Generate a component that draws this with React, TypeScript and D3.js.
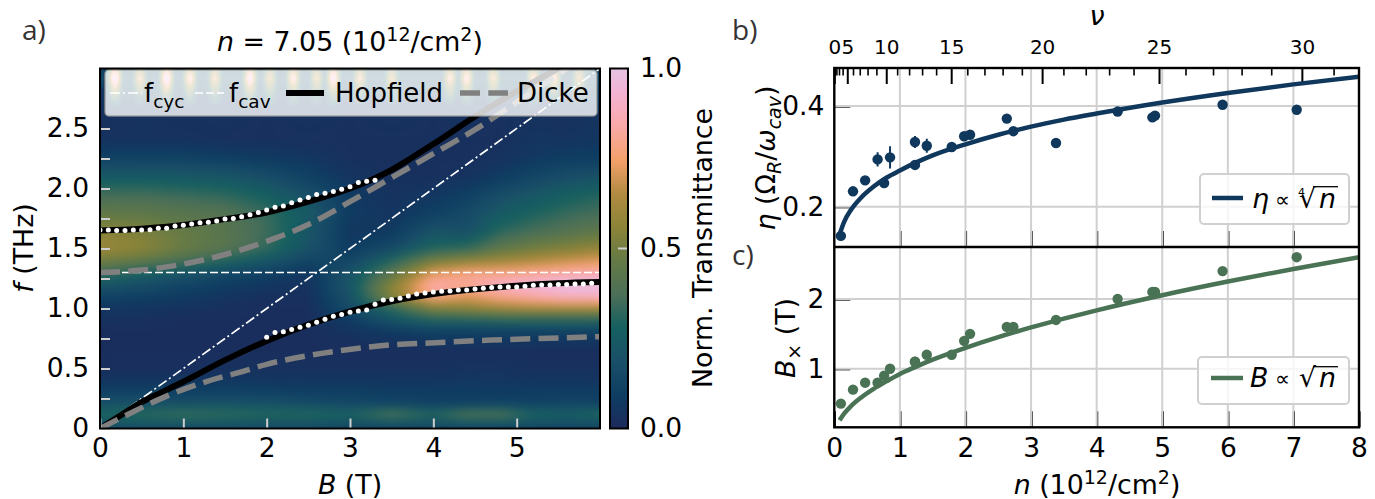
import React, { useEffect, useMemo, useRef } from 'react';
import * as d3 from 'd3';

const width = 1375;
const height = 499;
const font = '"DejaVu Sans", sans-serif';

// heatmap: one row per f, one column per B
const heatB = [0, 0.5, 1, 1.5, 2, 2.5, 3, 3.5, 4, 4.4, 4.8, 5.2, 5.6, 6];
const heatF = [3.0, 2.6, 2.4, 2.25, 2.1, 1.95, 1.8, 1.65, 1.5, 1.4, 1.3, 1.2, 1.1, 1.0, 0.9, 0.8, 0.65, 0.45, 0.3, 0.2, 0.12, 0.06, 0];
const heatT = [
  [.10, .10, .10, .10, .10, .10, .10, .10, .10, .10, .10, .10, .10, .10],
  [.03, .04, .03, .04, .03, .04, .03, .04, .03, .04, .03, .04, .03, .05],
  [.04, .04, .04, .03, .03, .03, .03, .03, .03, .03, .03, .05, .05, .06],
  [.12, .12, .12, .10, .08, .06, .03, .03, .03, .03, .04, .07, .09, .10],
  [.24, .24, .23, .22, .17, .11, .05, .03, .03, .04, .08, .13, .17, .20],
  [.36, .36, .34, .32, .27, .18, .08, .04, .06, .10, .17, .22, .27, .30],
  [.45, .44, .42, .40, .33, .24, .08, .05, .10, .15, .24, .29, .33, .36],
  [.55, .52, .47, .42, .35, .22, .06, .07, .20, .18, .31, .36, .40, .44],
  [.60, .56, .48, .42, .33, .20, .08, .16, .30, .33, .44, .50, .54, .58],
  [.50, .45, .38, .30, .22, .13, .13, .30, .50, .56, .60, .64, .68, .72],
  [.36, .28, .22, .16, .11, .06, .20, .42, .72, .78, .78, .80, .83, .85],
  [.22, .18, .13, .09, .06, .04, .22, .55, .85, .82, .90, .95, 1.0, 1.0],
  [.12, .10, .08, .05, .03, .03, .20, .55, .80, .72, .80, .85, .90, .90],
  [.06, .05, .04, .03, .02, .02, .16, .32, .52, .56, .60, .62, .62, .62],
  [.03, .03, .02, .02, .02, .02, .08, .20, .28, .28, .30, .30, .30, .30],
  [.02, .02, .02, .02, .02, .02, .04, .07, .10, .10, .10, .10, .10, .10],
  [.02, .02, .02, .02, .02, .02, .02, .02, .02, .02, .02, .02, .02, .02],
  [.03, .03, .03, .04, .04, .04, .04, .04, .04, .05, .05, .04, .04, .04],
  [.11, .12, .11, .12, .11, .10, .10, .09, .09, .09, .08, .09, .09, .09],
  [.20, .20, .19, .20, .20, .17, .15, .13, .11, .11, .12, .12, .13, .13],
  [.30, .33, .36, .34, .32, .32, .30, .42, .32, .44, .44, .30, .28, .32],
  [.24, .26, .26, .26, .24, .24, .22, .24, .22, .24, .24, .22, .20, .22],
  [.14, .12, .12, .12, .12, .12, .10, .10, .10, .10, .10, .10, .10, .10],
];

// pale stripes along the top edge, mostly behind the legend
const stripeB = [0.18, 0.48, 0.8, 1.08, 1.38, 1.8, 2.04, 2.32, 2.6, 2.8, 3.12, 3.5, 4.2, 4.4, 4.72, 5.2, 5.45, 5.75];
const stripeT = [1.0, 0.75, 1.0, 0.85, 0.75, 0.95, 0.7, 0.85, 0.7, 0.95, 0.75, 0.7, 0.8, 0.85, 0.75, 0.8, 0.8, 0.7];

const cmapValues = [0, 0.09, 0.19, 0.28, 0.37, 0.47, 0.56, 0.65, 0.745, 0.84, 0.93, 1];
const cmapColors = ['#1d2a5c', '#0e3d62', '#1a5068', '#156060', '#4b6f58', '#657a45', '#8c8438', '#b08a40', '#f3a06a', '#f9a9a8', '#f4b2d2', '#e6c3e3'];

const hopfieldUpB = [0, 0.5, 1, 1.5, 2, 2.5, 3, 3.3, 3.5, 3.75, 4, 4.5, 5, 5.5, 5.75];
const hopfieldUpF = [1.65, 1.665, 1.695, 1.745, 1.80, 1.89, 2.0, 2.085, 2.155, 2.26, 2.37, 2.6, 2.81, 3.0, 3.1];
const hopfieldLowB = [0, 0.25, 0.5, 0.75, 1, 1.5, 2, 2.5, 3, 3.5, 4, 4.5, 5, 5.5, 6];
const hopfieldLowF = [0, 0.11, 0.22, 0.305, 0.39, 0.57, 0.73, 0.865, 0.975, 1.06, 1.12, 1.16, 1.19, 1.21, 1.22];
const dickeUpB = [0, 0.5, 1, 1.5, 2, 2.5, 3, 3.5, 4, 4.5, 5, 5.5, 6];
const dickeUpF = [1.3, 1.32, 1.37, 1.45, 1.56, 1.7, 1.89, 2.09, 2.29, 2.49, 2.72, 2.95, 3.2];
const dickeLowB = [0, 0.4, 0.8, 1.32, 1.66, 2, 2.34, 2.66, 2.94, 3.34, 4.02, 4.7, 5.38, 6];
const dickeLowF = [0, 0.14, 0.27, 0.4, 0.465, 0.535, 0.587, 0.626, 0.654, 0.688, 0.715, 0.737, 0.752, 0.765];
const cycB = [0, 6];
const cycF = [0, 3];
const cavF = 1.3;

// extracted peaks, B = 0 .. 3.3 and B = 2 .. 5.9 in 0.1 T steps
const peaksUp = [1.654, 1.654, 1.649, 1.651, 1.654, 1.654, 1.657, 1.668, 1.668, 1.688, 1.693, 1.704, 1.715, 1.718, 1.729, 1.746, 1.749, 1.765, 1.782, 1.799, 1.821, 1.843, 1.854, 1.882, 1.904, 1.926, 1.951, 1.96, 1.976, 1.993, 2.015, 2.049, 2.06, 2.068];
const peaksLow = [0.76, 0.80, 0.807, 0.826, 0.843, 0.86, 0.885, 0.91, 0.935, 0.95, 0.968, 0.98, 0.987, 1.035, 1.07, 1.076, 1.085, 1.104, 1.12, 1.13, 1.137, 1.143, 1.146, 1.154, 1.154, 1.162, 1.168, 1.174, 1.18, 1.18, 1.18, 1.185, 1.193, 1.196, 1.196, 1.2, 1.2, 1.204, 1.204, 1.21];

// density points shared by panels b and c
const density = [0.10, 0.285, 0.47, 0.66, 0.76, 0.85, 1.23, 1.23, 1.41, 1.79, 1.98, 2.07, 2.63, 2.73, 3.38, 4.32, 4.85, 4.89, 5.92, 7.05];
const eta = [0.142, 0.2306, 0.2524, 0.294, 0.247, 0.298, 0.3285, 0.283, 0.321, 0.3186, 0.34, 0.343, 0.375, 0.35, 0.3265, 0.389, 0.3775, 0.381, 0.4026, 0.3926];
const etaErr = [0.004, 0.004, 0.004, 0.014, 0.006, 0.022, 0.012, 0.008, 0.014, 0.004, 0.006, 0.006, 0.004, 0.004, 0.004, 0.004, 0.004, 0.004, 0.004, 0.004];
const bCross = [0.5, 0.7, 0.8, 0.8, 0.9, 1.0, 1.1, 1.1, 1.2, 1.2, 1.4, 1.5, 1.6, 1.6, 1.7, 2.0, 2.1, 2.1, 2.4, 2.6];

const fitN = [0.08, 0.15, 0.25, 0.4, 0.6, 0.8, 1, 1.25, 1.5, 2, 2.5, 3, 3.5, 4, 5, 6, 7, 8];
const fitEta = [0.145, 0.17, 0.193, 0.217, 0.24, 0.258, 0.272, 0.288, 0.302, 0.324, 0.343, 0.359, 0.373, 0.385, 0.407, 0.426, 0.443, 0.458];
const fitB = [0.26, 0.356, 0.46, 0.581, 0.712, 0.822, 0.925, 1.03, 1.13, 1.3, 1.453, 1.592, 1.719, 1.838, 2.055, 2.251, 2.431, 2.6];

const nuTicks = [0, 5, 10, 15, 20, 25, 30];
const nuMinor = [1, 2, 3, 4, 6, 7, 8, 9, 11, 12, 13, 14, 16, 17, 18, 19, 21, 22, 23, 24, 26, 27, 28, 29, 31];

const bScale = d3.scaleLinear().domain([0, 6]).range([100, 600]);
const fScale = d3.scaleLinear().domain([0, 3]).range([428.5, 68.5]);
const cbScale = d3.scaleLinear().domain([0, 1]).range([428.5, 68.5]);
const nScale = d3.scaleLinear().domain([0, 8]).range([834.3, 1359]);
const nuScale = d3.scalePow().exponent(2).domain([0, 31.78]).range([834.3, 1359]);
const etaScale = d3.scaleLinear().domain([0.12, 0.4755]).range([247, 68]);
const bxScale = d3.scaleLinear().domain([0.16, 2.746]).range([427.3, 247]);
const cmap = d3.scaleLinear<string>().domain(cmapValues).range(cmapColors).interpolate(d3.interpolateRgb);

function sampleHeat(b: number, f: number) {
  const asc = heatF.map(d => -d);
  const j = Math.min(heatF.length - 2, Math.max(0, d3.bisectRight(asc, -f) - 1));
  const i = Math.min(heatB.length - 2, Math.max(0, d3.bisectRight(heatB, b) - 1));
  const tx = (b - heatB[i]) / (heatB[i + 1] - heatB[i]);
  const ty = (heatF[j] - f) / (heatF[j] - heatF[j + 1]);
  const top = heatT[j][i] * (1 - tx) + heatT[j][i + 1] * tx;
  const bottom = heatT[j + 1][i] * (1 - tx) + heatT[j + 1][i + 1] * tx;
  return top * (1 - ty) + bottom * ty;
}

function stripeAt(b: number, f: number) {
  if (f <= 2.65) return 0;
  // stripes fade out going down from f = 2.92
  const fade = f > 2.92 ? 1 - (f - 2.92) * 4 : (f - 2.65) / 0.27;
  let stripe = 0.15;
  stripeB.forEach((s, k) => {
    const q = Math.abs(b - s) / 0.085;
    stripe = Math.max(stripe, stripeT[k] * Math.exp(-q * q));
  });
  return stripe * fade;
}

function renderHeat() {
  const w = 500;
  const h = 360;
  const base = document.createElement('canvas');
  base.width = w;
  base.height = h;
  const ctx = base.getContext('2d')!;
  for (let py = 0; py < h; py++) {
    for (let px = 0; px < w; px++) {
      ctx.fillStyle = cmap(sampleHeat(bScale.invert(100 + px + 0.5), fScale.invert(68.5 + py + 0.5)));
      ctx.fillRect(px, py, 1, 1);
    }
  }
  const out = document.createElement('canvas');
  out.width = w;
  out.height = h;
  const octx = out.getContext('2d')!;
  octx.drawImage(base, 0, 0);
  octx.filter = 'blur(5px)';
  octx.drawImage(base, 0, 0);
  octx.filter = 'none';
  // the stripes stay sharp, so they go on after the blur
  for (let py = 0; py < 60; py++) {
    for (let px = 0; px < w; px++) {
      const v = stripeAt(bScale.invert(100 + px + 0.5), fScale.invert(68.5 + py + 0.5));
      if (v > 0.1) {
        octx.fillStyle = cmap(v);
        octx.fillRect(px, py, 1, 1);
      }
    }
  }
  return out.toDataURL();
}

function drawAxes(g: SVGGElement) {
  const root = d3.select(g);
  root.selectAll('*').remove();

  const style = (sel: any, tickColor: string, size: number, tickWidth: number) => {
    sel.select('.domain').remove();
    sel.selectAll('line').attr('stroke', tickColor).attr('stroke-width', tickWidth);
    sel.selectAll('text').attr('fill', '#000').style('font-size', `${size}px`).style('font-family', font);
  };

  root.append('g').attr('transform', 'translate(0,428.5)')
    .call(d3.axisBottom(bScale).tickValues([0, 1, 2, 3, 4, 5]).tickFormat(d3.format('d') as any).tickSizeInner(-10).tickSizeOuter(0).tickPadding(10))
    .call(style, '#cfcfcf', 26.5, 2);

  root.append('g').attr('transform', 'translate(100,0)')
    .call(d3.axisLeft(fScale).tickValues(d3.range(0, 11).map(d => d * 0.25))
      .tickFormat((d: any) => (d === 0 ? '0' : d * 2 % 1 === 0 ? d3.format('.1f')(d) : '')).tickSizeInner(-10).tickSizeOuter(0).tickPadding(11))
    .call(style, '#cfcfcf', 26.5, 2);

  root.append('g').attr('transform', 'translate(610,0)')
    .call(d3.axisRight(cbScale).tickValues([0, 0.5, 1]).tickFormat(d3.format('.1f') as any).tickSize(0).tickPadding(30))
    .call(style, 'none', 26.5, 0);

  // panel b
  root.append('g').attr('transform', 'translate(834.3,0)')
    .call(d3.axisLeft(etaScale).tickValues([0.2, 0.4]).tickFormat(d3.format('.1f') as any).tickSizeInner(-16).tickSizeOuter(0).tickPadding(10))
    .call(style, '#000', 26.5, 2.2);
  root.append('g').attr('transform', 'translate(0,247)')
    .call(d3.axisBottom(nScale).tickValues(d3.range(1, 8)).tickFormat(() => '').tickSizeInner(-16).tickSizeOuter(0))
    .call(style, '#000', 26.5, 2.2);
  root.append('g').attr('transform', 'translate(0,68)')
    .call(d3.axisTop(nuScale).tickValues(nuTicks).tickFormat(d3.format('d') as any).tickSizeInner(-16).tickSizeOuter(0).tickPadding(14))
    .call(style, '#000', 20, 2);
  root.append('g').attr('transform', 'translate(0,68)')
    .call(d3.axisTop(nuScale).tickValues(nuMinor).tickFormat(() => '').tickSizeInner(-7.5).tickSizeOuter(0))
    .call(style, '#000', 20, 1.6);

  // panel c
  root.append('g').attr('transform', 'translate(834.3,0)')
    .call(d3.axisLeft(bxScale).tickValues([1, 2]).tickFormat(d3.format('d') as any).tickSizeInner(-16).tickSizeOuter(0).tickPadding(10))
    .call(style, '#000', 26.5, 2.2);
  root.append('g').attr('transform', 'translate(0,427.3)')
    .call(d3.axisBottom(nScale).tickValues(d3.range(0, 9)).tickFormat(d3.format('d') as any).tickSizeInner(-16).tickSizeOuter(0).tickPadding(10.5))
    .call(style, '#000', 26.5, 2.2);
}

const curve = (xs: number[], ys: number[], sx: any, sy: any) =>
  d3.line<number>().x(d => sx(xs[d])).y(d => sy(ys[d])).curve(d3.curveMonotoneX)(d3.range(xs.length)) as string;

const App = () => {
  const axesRef = useRef<SVGGElement>(null);
  const heat = useMemo(renderHeat, []);

  useEffect(() => {
    if (axesRef.current) drawAxes(axesRef.current);
  }, []);

  return (
    <svg width={width} height={height} viewBox={`0 0 ${width} ${height}`} fontFamily={font}
      style={{ position: 'absolute', left: 0, top: 0, display: 'block', background: '#fff' }}>
      <defs>
        <clipPath id="heatClip"><rect x={100} y={68.5} width={500} height={360} /></clipPath>
        <clipPath id="bClip"><rect x={834.3} y={68} width={524.7} height={179} /></clipPath>
        <clipPath id="cClip"><rect x={834.3} y={247} width={524.7} height={180.3} /></clipPath>
        <linearGradient id="cbGrad" x1="0" y1="1" x2="0" y2="0">
          {cmapValues.map((v, i) => <stop key={v} offset={v} stopColor={cmapColors[i]} />)}
        </linearGradient>
      </defs>

      {/* panel a */}
      <image href={heat} x={100} y={68.5} width={500} height={360} preserveAspectRatio="none" />
      <g clipPath="url(#heatClip)" fill="none">
        <path d={curve(cycB, cycF, bScale, fScale)} stroke="#fff" strokeWidth={1.7} strokeDasharray="10 3 2 3" />
        <line x1={bScale(0)} x2={bScale(6)} y1={fScale(cavF)} y2={fScale(cavF)} stroke="#fff" strokeWidth={1.7} strokeDasharray="8 3" />
        <path d={curve(hopfieldUpB, hopfieldUpF, bScale, fScale)} stroke="#000" strokeWidth={6} />
        <path d={curve(hopfieldLowB, hopfieldLowF, bScale, fScale)} stroke="#000" strokeWidth={6} />
        <path d={curve(dickeUpB, dickeUpF, bScale, fScale)} stroke="#808080" strokeWidth={5.5} strokeDasharray="20 8.3" />
        <path d={curve(dickeLowB, dickeLowF, bScale, fScale)} stroke="#808080" strokeWidth={5.5} strokeDasharray="20 8.3" />
      </g>
      {peaksUp.map((f, i) => <circle key={`u${i}`} cx={bScale(i / 10)} cy={fScale(f)} r={2.5} fill="#fff" />)}
      {peaksLow.map((f, i) => <circle key={`l${i}`} cx={bScale(2 + i / 10)} cy={fScale(f)} r={2.5} fill="#fff" />)}
      <g ref={axesRef} />

      <g>
        <rect x={105} y={70} width={492} height={46} rx={4} fill="#fff" fillOpacity={0.8} stroke="#999" strokeOpacity={0.8} strokeWidth={1.5} />
        <line x1={110} x2={142} y1={93} y2={93} stroke="#fff" strokeWidth={1.7} strokeDasharray="10 3 2 3" />
        <text x={144} y={102} fontSize={26} fill="#000">f<tspan fontSize={18.5} dy={6}>cyc</tspan></text>
        <line x1={195} x2={224} y1={93} y2={93} stroke="#fff" strokeWidth={1.7} strokeDasharray="8 3" />
        <text x={229} y={102} fontSize={26} fill="#000">f<tspan fontSize={18.5} dy={6}>cav</tspan></text>
        <line x1={286} x2={324} y1={93} y2={93} stroke="#000" strokeWidth={6} />
        <text x={335} y={102} fontSize={26} fill="#000">Hopfield</text>
        <line x1={460} x2={508} y1={93} y2={93} stroke="#808080" strokeWidth={5.5} strokeDasharray="20 8.3" />
        <text x={517} y={102} fontSize={26} fill="#000">Dicke</text>
      </g>
      <rect x={100} y={68.5} width={500} height={360} fill="none" stroke="#000" strokeWidth={2} />

      <rect x={610} y={68.5} width={18} height={360} fill="url(#cbGrad)" stroke="#000" strokeWidth={2} />
      <line x1={618} x2={627} y1={cbScale(0.5)} y2={cbScale(0.5)} stroke="#cfcfcf" strokeWidth={2} />

      <text x={350} y={51} textAnchor="middle" fontSize={26.8}>
        <tspan fontStyle="italic">n</tspan> = 7.05 (10<tspan fontSize={19} dy={-10}>12</tspan><tspan dy={10}>/cm</tspan><tspan fontSize={19} dy={-10}>2</tspan><tspan dy={10}>)</tspan>
      </text>
      <text x={350} y={494} textAnchor="middle" fontSize={26.8}><tspan fontStyle="italic">B</tspan> (T)</text>
      <text transform="translate(33,248) rotate(-90)" textAnchor="middle" fontSize={26.8}><tspan fontStyle="italic">f</tspan> (THz)</text>
      <text transform="translate(712,248) rotate(-90)" textAnchor="middle" fontSize={26.8}>Norm. Transmittance</text>
      <text x={22} y={40} fontSize={28} fontFamily="'Open Sans', sans-serif" fill="#333">a)</text>
      <text x={732} y={40} fontSize={28} fontFamily="'Open Sans', sans-serif" fill="#333">b)</text>
      <text x={732} y={265} fontSize={28} fontFamily="'Open Sans', sans-serif" fill="#333">c)</text>

      {/* panel b */}
      <g stroke="#d0d0d0" strokeWidth={2} clipPath="url(#bClip)">
        {d3.range(1, 8).map(d => <line key={d} x1={nScale(d)} x2={nScale(d)} y1={68} y2={247} />)}
        {[0.2, 0.4].map(d => <line key={d} x1={834.3} x2={1359} y1={etaScale(d)} y2={etaScale(d)} />)}
      </g>
      <g clipPath="url(#bClip)" fill="#10375c" stroke="#10375c">
        {density.map((n, i) => (
          <g key={i}>
            <line x1={nScale(n)} x2={nScale(n)} y1={etaScale(eta[i] - etaErr[i])} y2={etaScale(eta[i] + etaErr[i])} strokeWidth={2} />
            <circle cx={nScale(n)} cy={etaScale(eta[i])} r={5.2} stroke="none" />
          </g>
        ))}
        <path d={curve(fitN, fitEta, nScale, etaScale)} fill="none" strokeWidth={4.5} />
      </g>
      <rect x={1200} y={174} width={149} height={50} rx={4} fill="#fff" fillOpacity={0.8} stroke="#d0d0d0" strokeWidth={2} />
      <line x1={1212} x2={1243} y1={198} y2={198} stroke="#10375c" strokeWidth={4.5} />
      <text x={1252} y={208} fontSize={26.8} fontStyle="italic">η</text>
      <text x={1275} y={207} fontSize={21}>∝</text>
      <text x={1298} y={196} fontSize={11}>4</text>
      <text x={1299} y={208} fontSize={26.8}>√</text>
      <line x1={1313} x2={1338} y1={186.7} y2={186.7} stroke="#000" strokeWidth={1.3} />
      <text x={1319} y={208} fontSize={26.8} fontStyle="italic">n</text>
      <text x={1097} y={25} textAnchor="middle" fontSize={27} fontStyle="italic">ν</text>
      <text transform="translate(775,158) rotate(-90)" textAnchor="middle" fontSize={26.8}>
        <tspan fontStyle="italic">η</tspan> (Ω<tspan fontSize={19} dy={6} fontStyle="italic">R</tspan><tspan dy={-6}>/</tspan><tspan fontStyle="italic">ω</tspan><tspan fontSize={19} dy={6} fontStyle="italic">cav</tspan><tspan dy={-6}>)</tspan>
      </text>

      {/* panel c */}
      <g stroke="#d0d0d0" strokeWidth={2} clipPath="url(#cClip)">
        {d3.range(1, 8).map(d => <line key={d} x1={nScale(d)} x2={nScale(d)} y1={247} y2={427.3} />)}
        {[1, 2].map(d => <line key={d} x1={834.3} x2={1359} y1={bxScale(d)} y2={bxScale(d)} />)}
      </g>
      <g clipPath="url(#cClip)" fill="#4a7355" stroke="#4a7355">
        {density.map((n, i) => <circle key={i} cx={nScale(n)} cy={bxScale(bCross[i])} r={5.2} stroke="none" />)}
        <path d={curve(fitN, fitB, nScale, bxScale)} fill="none" strokeWidth={4.5} />
      </g>
      <rect x={1198} y={357} width={151} height={47} rx={4} fill="#fff" fillOpacity={0.8} stroke="#d0d0d0" strokeWidth={2} />
      <line x1={1211} x2={1243} y1={378} y2={378} stroke="#4a7355" strokeWidth={4.5} />
      <text x={1250} y={387} fontSize={26.8} fontStyle="italic">B</text>
      <text x={1275} y={386} fontSize={21}>∝</text>
      <text x={1299} y={387} fontSize={26.8}>√</text>
      <line x1={1313} x2={1338} y1={366.7} y2={366.7} stroke="#000" strokeWidth={1.3} />
      <text x={1319} y={387} fontSize={26.8} fontStyle="italic">n</text>
      <text x={1097} y={494} textAnchor="middle" fontSize={26.8}>
        <tspan fontStyle="italic">n</tspan> (10<tspan fontSize={19} dy={-10}>12</tspan><tspan dy={10}>/cm</tspan><tspan fontSize={19} dy={-10}>2</tspan><tspan dy={10}>)</tspan>
      </text>
      <text transform="translate(795,338) rotate(-90)" textAnchor="middle" fontSize={26.8}>
        <tspan fontStyle="italic">B</tspan><tspan fontSize={19} dy={6}>×</tspan><tspan dy={-6}> (T)</tspan>
      </text>

      <rect x={834.3} y={68} width={524.7} height={359.3} fill="none" stroke="#000" strokeWidth={2.4} />
      <line x1={834.3} x2={1359} y1={247} y2={247} stroke="#000" strokeWidth={2.4} />
    </svg>
  );
};

export default App;
